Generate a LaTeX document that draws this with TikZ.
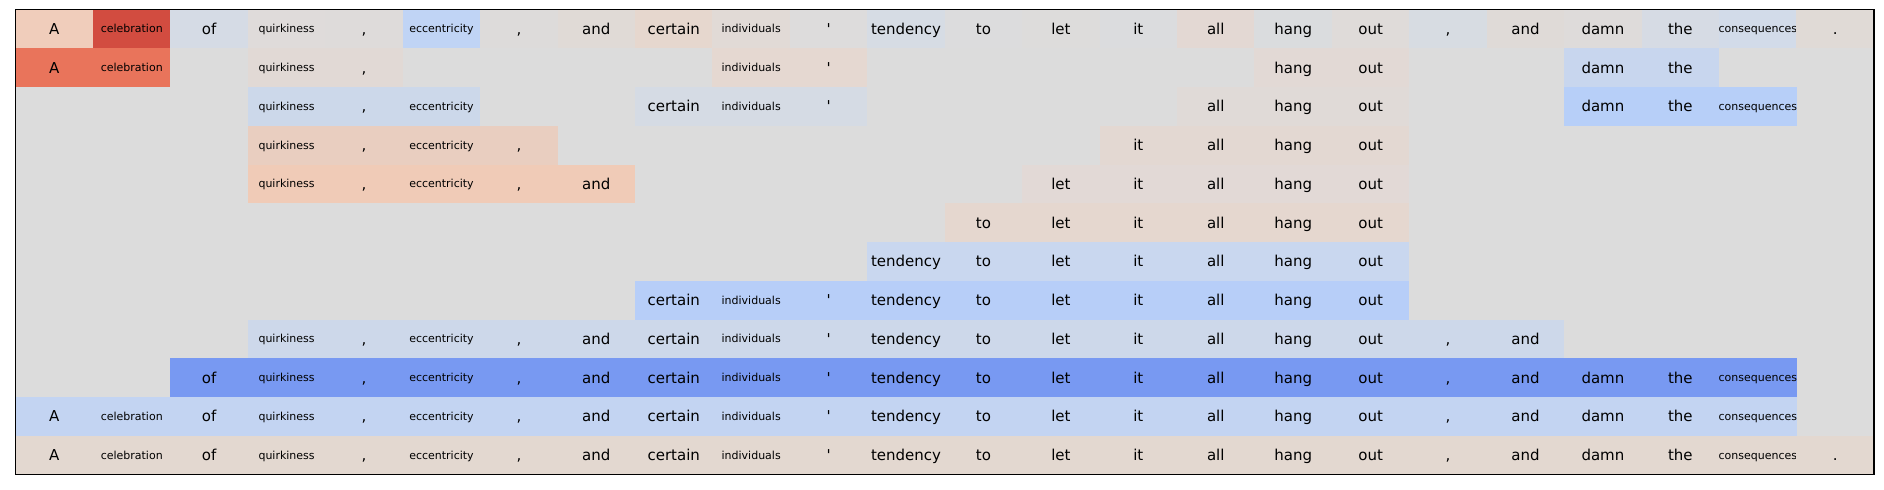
\documentclass[tikz,border=0pt]{standalone}
\usepackage{fontspec}
\setmainfont{DejaVu Sans}
\usepackage{tikz}

% colours of the first (full) row
\definecolor{top0}{RGB}{240,205,187}
\definecolor{top1}{RGB}{210,76,64}
\definecolor{top2}{RGB}{213,219,229}
\definecolor{top3}{RGB}{223,219,218}
\definecolor{top4}{RGB}{222,219,218}
\definecolor{top5}{RGB}{192,212,245}
\definecolor{top6}{RGB}{221,219,218}
\definecolor{top7}{RGB}{224,218,214}
\definecolor{top8}{RGB}{230,215,206}
\definecolor{top9}{RGB}{225,218,214}
\definecolor{top10}{RGB}{221,220,220}
\definecolor{top11}{RGB}{214,220,228}
\definecolor{top12}{RGB}{220,220,221}
\definecolor{top13}{RGB}{221,220,219}
\definecolor{top14}{RGB}{219,220,222}
\definecolor{top15}{RGB}{227,216,211}
\definecolor{top16}{RGB}{218,220,222}
\definecolor{top17}{RGB}{223,219,217}
\definecolor{top18}{RGB}{215,220,226}
\definecolor{top19}{RGB}{223,218,215}
\definecolor{top20}{RGB}{222,219,218}
\definecolor{top21}{RGB}{214,219,228}
\definecolor{top22}{RGB}{210,219,233}
\definecolor{top23}{RGB}{224,218,214}
% colours of the other rows
\definecolor{bg}{RGB}{220,220,220}
\definecolor{oneA}{RGB}{233,116,91}
\definecolor{oneB}{RGB}{225,217,213}
\definecolor{oneC}{RGB}{229,216,209}
\definecolor{oneD}{RGB}{226,217,213}
\definecolor{oneE}{RGB}{200,214,238}
\definecolor{twoA}{RGB}{204,216,234}
\definecolor{twoB}{RGB}{213,219,228}
\definecolor{twoC}{RGB}{224,218,215}
\definecolor{twoD}{RGB}{183,207,248}
\definecolor{threeA}{RGB}{233,206,192}
\definecolor{threeB}{RGB}{227,216,210}
\definecolor{fourA}{RGB}{240,203,183}
\definecolor{fourB}{RGB}{226,217,214}
\definecolor{five}{RGB}{229,215,207}
\definecolor{six}{RGB}{201,215,239}
\definecolor{seven}{RGB}{183,206,248}
\definecolor{eight}{RGB}{205,216,234}
\definecolor{nine}{RGB}{120,153,242}
\definecolor{ten}{RGB}{195,212,242}
\definecolor{eleven}{RGB}{227,216,208}

\newcommand\sw[1]{{\fontsize{5.5}{6.6}\selectfont\raisebox{.75pt}{#1}}}
\newcommand\tok[1]{\ifcase#1 A\or \sw{celebration}\or of\or \sw{quirkiness}\or ,\or \sw{eccentricity}\or ,\or and\or certain\or \sw{individuals}\or \textquotesingle\or tendency\or to\or let\or it\or all\or hang\or out\or ,\or and\or damn\or the\or \sw{consequences}\or .\fi}
\def\cellat(#1,#2)[#3]{\node[cell,fill=#3] (w#1-#2) at ({\xo+(#2+.5)*\cw},{\yo+(#1+.5)*\rh}) {\tok{#2}};}

\tikzset{cell/.style={inner sep=0pt,minimum width=38.75pt,minimum height=19.4pt,text height=5.5pt,text depth=0pt,font=\fontsize{7.5}{9}\selectfont}}

\begin{document}
\begin{tikzpicture}[x=0.5pt,y=-0.5pt]
	%%%%% START %%%%%
	\def\xo{15.6}
	\def\yo{9.6}
	\def\cw{77.43}
	\def\rh{38.75}

	\useasboundingbox (0,0) rectangle (1884,489);
	\fill[bg] (\xo,\yo) rectangle (\xo+24*\cw,\yo+12*\rh);

	\foreach \c in {0,...,23} \cellat(0,\c)[top\c];
	\foreach \c/\k in {0/oneA,1/oneA,3/oneB,4/oneB,9/oneC,10/oneC,16/oneD,17/oneD,20/oneE,21/oneE} \cellat(1,\c)[\k];
	\foreach \c/\k in {3/twoA,4/twoA,5/twoA,8/twoB,9/twoB,10/twoB,15/twoC,16/twoC,17/twoC,20/twoD,21/twoD,22/twoD} \cellat(2,\c)[\k];
	\foreach \c/\k in {3/threeA,4/threeA,5/threeA,6/threeA,14/threeB,15/threeB,16/threeB,17/threeB} \cellat(3,\c)[\k];
	\foreach \c/\k in {3/fourA,4/fourA,5/fourA,6/fourA,7/fourA,13/fourB,14/fourB,15/fourB,16/fourB,17/fourB} \cellat(4,\c)[\k];
	\foreach \c in {12,...,17} \cellat(5,\c)[five];
	\foreach \c in {11,...,17} \cellat(6,\c)[six];
	\foreach \c in {8,...,17} \cellat(7,\c)[seven];
	\foreach \c in {3,...,19} \cellat(8,\c)[eight];
	\foreach \c in {2,...,22} \cellat(9,\c)[nine];
	\foreach \c in {0,...,22} \cellat(10,\c)[ten];
	\foreach \c in {0,...,23} \cellat(11,\c)[eleven];

	\draw[line width=0.6pt] (\xo,\yo) rectangle (\xo+24*\cw,\yo+12*\rh);
	%%%%% START %%%%%
\end{tikzpicture}
\end{document}
